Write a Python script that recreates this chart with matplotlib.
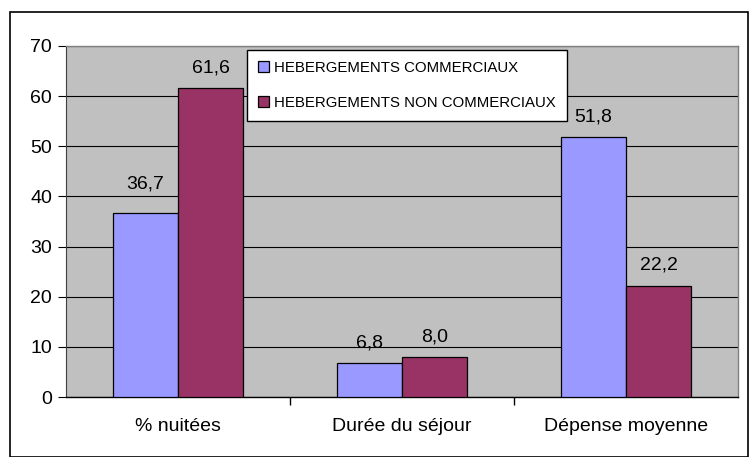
import matplotlib
matplotlib.use("Agg")
import matplotlib.pyplot as plt
import numpy as np
from matplotlib.patches import Rectangle

plt.rcParams['font.family'] = ['Liberation Sans', 'DejaVu Sans']

categories = ["% nuitées", "Durée du séjour", "Dépense moyenne"]
series_names = ["HEBERGEMENTS COMMERCIAUX", "HEBERGEMENTS NON COMMERCIAUX"]
commerciaux = [36.7, 6.8, 51.8]
non_commerciaux = [61.6, 8.0, 22.2]
value_labels_c = ["36,7", "6,8", "51,8"]
value_labels_nc = ["61,6", "8,0", "22,2"]
yticks = [0, 10, 20, 30, 40, 50, 60, 70]

W, H = 749, 457
fig = plt.figure(figsize=(W / 100, H / 100), dpi=100)
# outer frame
fig.patches.append(Rectangle((10 / W, 0.5 / H), (W - 11) / W, (H - 12.5) / H,
                             transform=fig.transFigure, fill=False,
                             edgecolor='black', linewidth=1.2))

ax = fig.add_axes([66 / W, (H - 397) / H, (738 - 66) / W, (397 - 46) / H])
ax.set_facecolor('#C0C0C0')

x = np.arange(len(categories))
bw = 0.29
b1 = ax.bar(x - bw / 2, commerciaux, bw, color='#9999FF', edgecolor='black',
            linewidth=0.9, label=series_names[0], zorder=3)
b2 = ax.bar(x + bw / 2, non_commerciaux, bw, color='#993366', edgecolor='black',
            linewidth=0.9, label=series_names[1], zorder=3)

offs_c = [15, 8.5, 8.5]
offs_nc = [8.5, 8.5, 8.5]
for rect, lab, o in zip(b1, value_labels_c, offs_c):
    ax.annotate(lab, (rect.get_x() + rect.get_width() / 2, rect.get_height()),
                xytext=(0, o), textcoords='offset points', ha='center', va='bottom',
                fontsize=14)
for rect, lab, o in zip(b2, value_labels_nc, offs_nc):
    ax.annotate(lab, (rect.get_x() + rect.get_width() / 2, rect.get_height()),
                xytext=(0, o), textcoords='offset points', ha='center', va='bottom',
                fontsize=14)

ax.set_xlim(-0.5, len(categories) - 0.5)
ax.set_ylim(0, 70)
ax.set_yticks(yticks)
ax.set_yticklabels([str(t) for t in yticks], fontsize=14)
ax.yaxis.grid(True, color='black', linewidth=0.8, zorder=1)
ax.set_axisbelow(True)

ax.set_xticks(x)
ax.set_xticklabels(categories, fontsize=14)
ax.tick_params(axis='x', which='major', length=0, pad=15)
ax.set_xticks(np.arange(0.5, len(categories) - 0.5, 1.0), minor=True)
ax.tick_params(axis='x', which='minor', length=6, direction='out', width=1)
ax.tick_params(axis='y', length=6, direction='out', width=0.8, pad=4)

for s in ['top', 'right']:
    ax.spines[s].set_color('#808080')
    ax.spines[s].set_linewidth(1)
ax.spines['left'].set_color('#404040')
ax.spines['bottom'].set_color('black')
ax.spines['bottom'].set_linewidth(1)

leg = ax.legend(loc='upper left', bbox_to_anchor=(0.269, 0.99), borderaxespad=0,
                fontsize=10.8, handlelength=0.7, handleheight=0.7, handletextpad=0.35,
                labelspacing=1.4, borderpad=0.75, fancybox=False, framealpha=1,
                edgecolor='black')
leg.get_frame().set_linewidth(1)
leg.set_zorder(5)

fig.savefig('out.png', dpi=100)
